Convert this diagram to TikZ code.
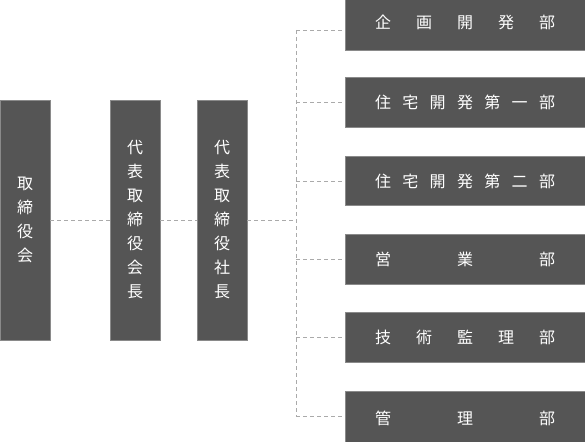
\documentclass[tikz,border=0pt]{standalone}
\usepackage{fontspec}
\setmainfont{Noto Sans CJK JP}
\usepackage{tikz}
\usepackage{xcolor}
\definecolor{boxgray}{HTML}{555555}
\definecolor{edgegray}{HTML}{8A8A8A}
\definecolor{linegray}{HTML}{AAAAAA}
\tikzset{
  post/.style={draw=edgegray, line width=0.6pt, fill=boxgray, text=white,
    font=\fontsize{16}{24}\selectfont, inner sep=0pt, align=center},
  vpost/.style={post, minimum width=50pt, minimum height=240pt},
  dept/.style={post, minimum width=240pt, minimum height=49.5pt},
  link/.style={draw=linegray, line width=0.7pt, dash pattern=on 4pt off 3pt}
}
\newcommand{\spread}[1]{\makebox[180pt][s]{#1}}
\begin{document}
\begin{tikzpicture}[x=1pt, y=-1pt]
\useasboundingbox (0,0) rectangle (585,441);
%% executives
\node[vpost] (board) at (25,220) {取\\締\\役\\会};
\node[vpost] (chair) at (135,220) {代\\表\\取\\締\\役\\会\\長};
\node[vpost] (pres) at (222,220) {代\\表\\取\\締\\役\\社\\長};
%% departments
\node[dept, minimum height=55pt] (plan) at (465,22.5) {\raisebox{-1pt}{\spread{企\hfill 画\hfill 開\hfill 発\hfill 部}}};
\node[dept] (house1) at (465,102.5) {\spread{住\hfill 宅\hfill 開\hfill 発\hfill 第\hfill 一\hfill 部}};
\node[dept] (house2) at (465,181) {\spread{住\hfill 宅\hfill 開\hfill 発\hfill 第\hfill 二\hfill 部}};
\node[dept] (sales) at (465,259.3) {\spread{営\hfill 業\hfill 部}};
\node[dept] (tech) at (465,337.5) {\spread{技\hfill 術\hfill 監\hfill 理\hfill 部}};
\node[dept, minimum height=55pt] (admin) at (465,418.5) {\raisebox{1pt}{\spread{管\hfill 理\hfill 部}}};
%% trunk
\coordinate (top) at (296,30);
\coordinate (bottom) at (296,416.7);
\coordinate (hub) at (296,220);
\draw[link] (board) -- (chair);
\draw[link] (chair) -- (pres);
\draw[link] (pres) -- (hub);
\draw[link] (top) -- (bottom);
\draw[link] (top) -- (top -| plan.west);
\draw[link] (house1.west -| top) -- (house1.west);
\draw[link] (house2.west -| top) -- (house2.west);
\draw[link] (sales.west -| top) -- (sales.west);
\draw[link] (tech.west -| top) -- (tech.west);
\draw[link] (bottom) -- (bottom -| admin.west);
\end{tikzpicture}
\end{document}
